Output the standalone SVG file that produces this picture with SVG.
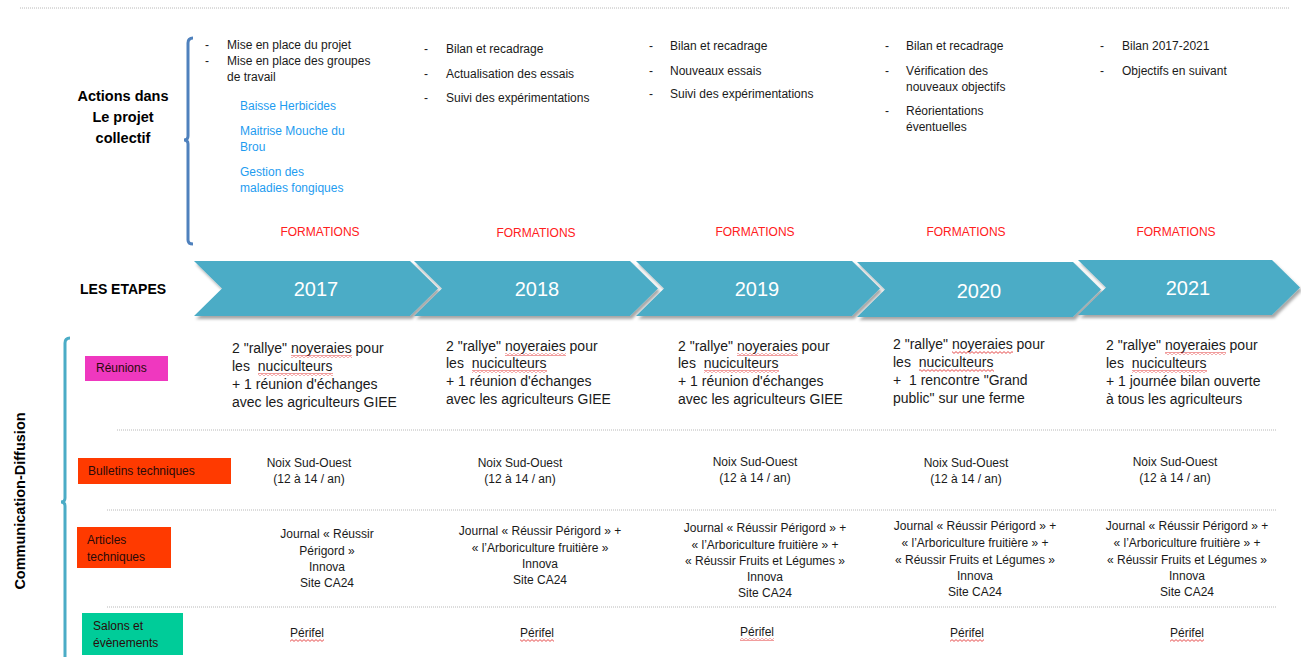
<svg xmlns="http://www.w3.org/2000/svg" width="1301" height="657" viewBox="0 0 1301 657">
<defs>
<filter id="sh" x="-5%" y="-10%" width="115%" height="130%">
<feDropShadow dx="2" dy="3" stdDeviation="1.5" flood-color="#000" flood-opacity="0.35"/>
</filter>
<pattern id="wave" width="4" height="3" patternUnits="userSpaceOnUse">
<path d="M0 0.6 L2 2.4 L4 0.6" fill="none" stroke="#e02020" stroke-width="0.8"/>
</pattern>
</defs>
<style>
text{font-family:"Liberation Sans",Arial,sans-serif;fill:#1a1a1a}
.b{font-weight:bold;fill:#000}
.s{font-size:12px}
.bl{font-size:12px;fill:#1e9cf0}
.f{font-size:12px;fill:#ff2020;text-anchor:middle}
.r{font-size:14px}
.c{font-size:12px;text-anchor:middle}
.yr{font-size:20px;fill:#fff;text-anchor:middle}
.lb{font-size:12px;fill:#2a0a0a}
.dot{stroke:#b8b8b8;stroke-width:1;stroke-dasharray:1 1;fill:none}
.chev{fill:#4bacc6;filter:url(#sh)}
.sq{fill:url(#wave)}
</style>
<line class="dot" x1="20" y1="8" x2="1290" y2="8"/>

<g id="header-actions">
<text class="b" font-size="14.5" text-anchor="middle"><tspan x="123" y="101">Actions dans</tspan><tspan x="123" y="122">Le projet</tspan><tspan x="123" y="143">collectif</tspan></text>
<path d="M193 38 Q188 38 188 43 L188 136 Q188 140 184 140 Q188 140 188 144 L188 240 Q188 244 193 244" fill="none" stroke="#4f81bd" stroke-width="3"/>
</g>

<g id="actions-2017">
<text class="s"><tspan x="205" y="49">-</tspan><tspan x="227" y="49">Mise en place du projet</tspan><tspan x="205" y="65">-</tspan><tspan x="227" y="65">Mise en place des groupes</tspan><tspan x="227" y="81">de travail</tspan></text>
<text class="bl"><tspan x="240" y="110">Baisse Herbicides</tspan><tspan x="240" y="135">Maitrise Mouche du</tspan><tspan x="240" y="151">Brou</tspan><tspan x="240" y="176">Gestion des</tspan><tspan x="240" y="192">maladies fongiques</tspan></text>
<text class="f" x="320" y="236">FORMATIONS</text>
</g>
<g id="actions-2018">
<text class="s"><tspan x="424" y="53">-</tspan><tspan x="446" y="53">Bilan et recadrage</tspan><tspan x="424" y="78">-</tspan><tspan x="446" y="78">Actualisation des essais</tspan><tspan x="424" y="102">-</tspan><tspan x="446" y="102">Suivi des expérimentations</tspan></text>
<text class="f" x="536" y="237">FORMATIONS</text>
</g>
<g id="actions-2019">
<text class="s"><tspan x="649" y="50">-</tspan><tspan x="670" y="50">Bilan et recadrage</tspan><tspan x="649" y="75">-</tspan><tspan x="670" y="75">Nouveaux essais</tspan><tspan x="649" y="98">-</tspan><tspan x="670" y="98">Suivi des expérimentations</tspan></text>
<text class="f" x="755" y="236">FORMATIONS</text>
</g>
<g id="actions-2020">
<text class="s"><tspan x="885" y="50">-</tspan><tspan x="906" y="50">Bilan et recadrage</tspan><tspan x="885" y="75">-</tspan><tspan x="906" y="75">Vérification des</tspan><tspan x="906" y="91">nouveaux objectifs</tspan><tspan x="885" y="115">-</tspan><tspan x="906" y="115">Réorientations</tspan><tspan x="906" y="131">éventuelles</tspan></text>
<text class="f" x="966" y="236">FORMATIONS</text>
</g>
<g id="actions-2021">
<text class="s"><tspan x="1100" y="50">-</tspan><tspan x="1122" y="50">Bilan 2017-2021</tspan><tspan x="1100" y="75">-</tspan><tspan x="1122" y="75">Objectifs en suivant</tspan></text>
<text class="f" x="1176" y="236">FORMATIONS</text>
</g>

<g id="etapes">
<text class="b" font-size="14" x="80" y="294">LES ETAPES</text>
</g>
<g id="chevron-2017"><path class="chev" d="M194 261 L410 261 L438 288.5 L410 316 L194 316 L222 288.5 Z"/><text class="yr" x="316" y="296">2017</text></g>
<g id="chevron-2018"><path class="chev" d="M414 261 L630 261 L658 288.5 L630 316 L414 316 L442 288.5 Z"/><text class="yr" x="537" y="296">2018</text></g>
<g id="chevron-2019"><path class="chev" d="M636 261 L852 261 L880 288.5 L852 316 L636 316 L664 288.5 Z"/><text class="yr" x="757" y="296">2019</text></g>
<g id="chevron-2020"><path class="chev" d="M857 262 L1073 262 L1101 289.5 L1073 317 L857 317 L885 289.5 Z"/><text class="yr" x="979" y="298">2020</text></g>
<g id="chevron-2021"><path class="chev" d="M1078 260 L1272 260 L1300 287.5 L1272 315 L1078 315 L1106 287.5 Z"/><text class="yr" x="1188" y="295">2021</text></g>

<g id="comm-header">
<text class="b" font-size="14.5" text-anchor="middle" transform="translate(25 501) rotate(-90)">Communication-Diffusion</text>
<path d="M70 338 Q65 338 65 343 L65 498 Q65 502 61 502 Q65 502 65 506 L65 660" fill="none" stroke="#4bacc6" stroke-width="3"/>
</g>

<g id="connectors">
<line class="dot" x1="117" y1="430" x2="1276" y2="430"/>
<line class="dot" x1="107" y1="510" x2="1276" y2="510"/>
<line class="dot" x1="107" y1="607" x2="1276" y2="607"/>
</g>

<g id="label-reunions"><rect x="85" y="356" width="83" height="25" fill="#ef38bf"/><text class="lb" x="96" y="372">Réunions</text></g>
<g id="label-bulletins"><rect x="78" y="458" width="153" height="26" fill="#ff3a00"/><text class="lb" x="88" y="475">Bulletins techniques</text></g>
<g id="label-articles"><rect x="77" y="527" width="94" height="41" fill="#ff3a00"/><text class="lb"><tspan x="87" y="544">Articles</tspan><tspan x="87" y="561">techniques</tspan></text></g>
<g id="label-salons"><rect x="82" y="613" width="101" height="42" fill="#00cc99"/><text class="lb"><tspan x="93" y="630">Salons et</tspan><tspan x="93" y="647">évènements</tspan></text></g>

<g id="reunions-2017"><text class="r"><tspan x="232" y="353">2 "rallye" noyeraies pour</tspan><tspan x="232" y="371">les&#160; nuciculteurs</tspan><tspan x="232" y="389">+ 1 réunion d'échanges</tspan><tspan x="232" y="407">avec les agriculteurs GIEE</tspan></text><rect class="sq" x="291" y="355" width="61" height="3"/><rect class="sq" x="258" y="373" width="75" height="3"/></g>
<g id="reunions-2018"><text class="r"><tspan x="446" y="351">2 "rallye" noyeraies pour</tspan><tspan x="446" y="368">les&#160; nuciculteurs</tspan><tspan x="446" y="386">+ 1 réunion d'échanges</tspan><tspan x="446" y="404">avec les agriculteurs GIEE</tspan></text><rect class="sq" x="505" y="353" width="61" height="3"/><rect class="sq" x="472" y="370" width="75" height="3"/></g>
<g id="reunions-2019"><text class="r"><tspan x="678" y="351">2 "rallye" noyeraies pour</tspan><tspan x="678" y="368">les&#160; nuciculteurs</tspan><tspan x="678" y="386">+ 1 réunion d'échanges</tspan><tspan x="678" y="404">avec les agriculteurs GIEE</tspan></text><rect class="sq" x="737" y="353" width="61" height="3"/><rect class="sq" x="704" y="370" width="75" height="3"/></g>
<g id="reunions-2020"><text class="r"><tspan x="893" y="349">2 "rallye" noyeraies pour</tspan><tspan x="893" y="367">les&#160; nuciculteurs</tspan><tspan x="893" y="385">+&#160; 1 rencontre "Grand</tspan><tspan x="893" y="403">public" sur une ferme</tspan></text><rect class="sq" x="952" y="351" width="61" height="3"/><rect class="sq" x="919" y="369" width="75" height="3"/></g>
<g id="reunions-2021"><text class="r"><tspan x="1106" y="350">2 "rallye" noyeraies pour</tspan><tspan x="1106" y="368">les&#160; nuciculteurs</tspan><tspan x="1106" y="386">+ 1 journée bilan ouverte</tspan><tspan x="1106" y="404">à tous les agriculteurs</tspan></text><rect class="sq" x="1165" y="352" width="61" height="3"/><rect class="sq" x="1132" y="370" width="75" height="3"/></g>

<g id="bulletins-2017"><text class="c"><tspan x="309" y="467">Noix Sud-Ouest</tspan><tspan x="309" y="483">(12 à 14 / an)</tspan></text></g>
<g id="bulletins-2018"><text class="c"><tspan x="520" y="467">Noix Sud-Ouest</tspan><tspan x="520" y="483">(12 à 14 / an)</tspan></text></g>
<g id="bulletins-2019"><text class="c"><tspan x="755" y="466">Noix Sud-Ouest</tspan><tspan x="755" y="482">(12 à 14 / an)</tspan></text></g>
<g id="bulletins-2020"><text class="c"><tspan x="966" y="467">Noix Sud-Ouest</tspan><tspan x="966" y="483">(12 à 14 / an)</tspan></text></g>
<g id="bulletins-2021"><text class="c"><tspan x="1175" y="466">Noix Sud-Ouest</tspan><tspan x="1175" y="482">(12 à 14 / an)</tspan></text></g>

<g id="articles-2017"><text class="c"><tspan x="327" y="538">Journal « Réussir</tspan><tspan x="327" y="555">Périgord »</tspan><tspan x="327" y="571">Innova</tspan><tspan x="327" y="587">Site CA24</tspan></text></g>
<g id="articles-2018"><text class="c"><tspan x="540" y="535">Journal « Réussir Périgord » +</tspan><tspan x="540" y="552">« l’Arboriculture fruitière »</tspan><tspan x="540" y="568">Innova</tspan><tspan x="540" y="584">Site CA24</tspan></text></g>
<g id="articles-2019"><text class="c"><tspan x="765" y="532">Journal « Réussir Périgord » +</tspan><tspan x="765" y="549">« l’Arboriculture fruitière » +</tspan><tspan x="765" y="565">« Réussir Fruits et Légumes »</tspan><tspan x="765" y="581">Innova</tspan><tspan x="765" y="597">Site CA24</tspan></text></g>
<g id="articles-2020"><text class="c"><tspan x="975" y="530">Journal « Réussir Périgord » +</tspan><tspan x="975" y="547">« l’Arboriculture fruitière » +</tspan><tspan x="975" y="564">« Réussir Fruits et Légumes »</tspan><tspan x="975" y="580">Innova</tspan><tspan x="975" y="596">Site CA24</tspan></text></g>
<g id="articles-2021"><text class="c"><tspan x="1187" y="530">Journal « Réussir Périgord » +</tspan><tspan x="1187" y="547">« l’Arboriculture fruitière » +</tspan><tspan x="1187" y="564">« Réussir Fruits et Légumes »</tspan><tspan x="1187" y="580">Innova</tspan><tspan x="1187" y="596">Site CA24</tspan></text></g>

<g id="salons-2017"><text class="c" x="307" y="637">Périfel</text><rect class="sq" x="290" y="639" width="34" height="3"/></g>
<g id="salons-2018"><text class="c" x="537" y="637">Périfel</text><rect class="sq" x="520" y="639" width="34" height="3"/></g>
<g id="salons-2019"><text class="c" x="757" y="636">Périfel</text><rect class="sq" x="740" y="638" width="34" height="3"/></g>
<g id="salons-2020"><text class="c" x="967" y="637">Périfel</text><rect class="sq" x="950" y="639" width="34" height="3"/></g>
<g id="salons-2021"><text class="c" x="1187" y="637">Périfel</text><rect class="sq" x="1170" y="639" width="34" height="3"/></g>
</svg>
